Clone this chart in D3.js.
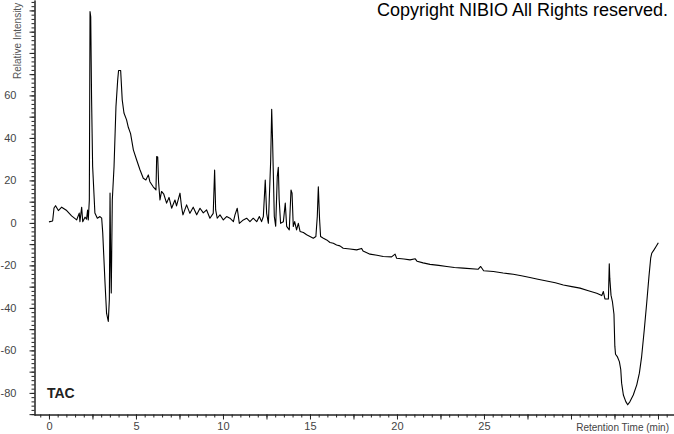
<!DOCTYPE html>
<html>
<head>
<meta charset="utf-8">
<script src="https://cdn.jsdelivr.net/npm/d3@7"></script>
<style>
  body { margin: 0; background: #fff; }
  text { font-family: "Liberation Sans", Arial, sans-serif; }
</style>
</head>
<body>
<div id="chart"></div>
<script>
// Data: retention time (min) and relative intensity
var retentionTime = [
  0.00, 0.21, 0.29, 0.38, 0.54, 0.73, 1.02, 1.30, 1.59, 1.74, 1.78, 1.88, 1.94, 2.07, 2.16, 2.22, 2.26, 2.32,
  2.36, 2.40, 2.45, 2.51, 2.64, 2.78, 2.93, 3.03, 3.09, 3.22, 3.31, 3.41, 3.47, 3.51, 3.55, 3.58, 3.64, 3.74,
  3.85, 3.95, 4.00, 4.12, 4.21, 4.31, 4.46, 4.56, 4.69, 4.85, 5.04, 5.23, 5.42, 5.57, 5.71, 5.80, 5.99, 6.15,
  6.19, 6.25, 6.30, 6.38, 6.47, 6.60, 6.76, 6.90, 7.05, 7.24, 7.33, 7.53, 7.62, 7.70, 7.91, 8.10, 8.29, 8.49,
  8.68, 8.87, 9.06, 9.25, 9.44, 9.52, 9.58, 9.67, 9.83, 10.02, 10.21, 10.40, 10.60, 10.69, 10.82, 10.94, 11.17,
  11.36, 11.55, 11.74, 11.94, 12.09, 12.22, 12.32, 12.43, 12.51, 12.61, 12.74, 12.80, 12.85, 12.95, 13.03,
  13.12, 13.18, 13.23, 13.31, 13.47, 13.58, 13.66, 13.81, 13.91, 13.97, 14.04, 14.12, 14.23, 14.33, 14.43,
  14.62, 14.81, 15.00, 15.19, 15.34, 15.42, 15.48, 15.55, 15.61, 15.77, 15.96, 16.15, 16.34, 16.53, 16.72,
  16.91, 17.30, 17.68, 17.97, 18.05, 18.45, 18.85, 19.21, 19.69, 19.89, 19.98, 20.40, 20.75, 21.05, 21.15,
  21.50, 21.90, 22.40, 22.86, 23.30, 23.81, 24.67, 24.81, 24.98, 25.54, 26.10, 26.68, 27.15, 27.64, 28.10,
  28.60, 29.10, 29.56, 30.05, 30.52, 31.00, 31.48, 31.77, 31.86, 31.95, 32.15, 32.20, 32.23, 32.30, 32.38,
  32.47, 32.52, 32.56, 32.66, 32.78, 32.86, 32.91, 33.01, 33.15, 33.26, 33.39, 33.58, 33.78, 33.93, 34.06,
  34.21, 34.35, 34.48, 34.58, 34.64, 34.77, 34.89, 35.02
];
var intensity = [
  0.5, 0.9, 7.0, 8.1, 5.8, 7.4, 5.8, 3.3, 1.4, 4.6, 0.6, 7.4, 0.6, 2.7, 1.8, 6.1, 1.4, 10.8,
  99.5, 97.0, 58.0, 26.5, 4.7, 2.2, 3.0, 2.2, -4.7, -28.0, -42.5, -46.4, -36.0, 14.0, -20.0, -33.0, 10.8, 26.5,
  54.7, 67.3, 71.7, 71.7, 57.9, 51.7, 48.5, 45.0, 42.0, 34.4, 29.6, 25.0, 21.0, 20.2, 22.6, 19.4, 17.0, 15.5,
  31.2, 31.0, 19.0, 10.8, 14.8, 13.5, 9.3, 12.0, 6.9, 10.8, 8.0, 14.0, 7.5, 3.8, 8.5, 4.5, 7.4, 3.8,
  6.9, 4.7, 6.1, 2.2, 4.5, 24.9, 6.1, 2.2, 3.8, 1.4, 3.0, 2.2, 0.6, 3.8, 6.9, -0.2, 1.4,
  2.2, 0.6, 2.2, 0.6, 3.0, 0.6, 3.0, 20.2, 4.5, -0.2, 28.9, 53.5, 39.0, 3.0, -1.6,
  21.8, 26.2, 11.0, -0.2, 0.5, 9.3, -1.6, -3.3, 15.5, 14.0, -1.7, 0.6, -3.3, -0.2, -4.0,
  -4.5, -5.6, -6.4, -7.2, -6.4, 3.0, 17.0, 2.0, -6.4, -7.2, -8.0, -9.2, -9.6, -10.4, -10.8,
  -11.9, -12.3, -12.7, -12.0, -13.2, -14.7, -15.2, -15.8, -16.0, -14.7, -16.6, -17.0, -17.4, -16.9, -18.0,
  -18.8, -19.5, -20.0, -20.5, -21.0, -21.3, -21.8, -20.5, -22.5, -22.9, -23.6, -24.2, -24.9, -25.7, -26.5,
  -27.3, -28.2, -29.2, -30.0, -30.7, -31.9, -33.1, -34.2, -32.3, -35.8, -35.8, -19.2, -26.0, -34.0, -37.0,
  -43.0, -58.0, -61.8, -62.9, -65.3, -69.0, -75.4, -81.0, -84.1, -85.6, -84.1, -81.0, -76.2, -70.7, -62.9,
  -50.4, -37.8, -25.3, -16.6, -14.3, -12.7, -11.1, -9.3
];

// Tick values
var xMajorTicks = d3.range(0, 36, 2.5);
var xMinorTicks = d3.range(-0.5, 36, 0.5);
var xTickLabels = [0, 5, 10, 15, 20, 25];
var yMajorTicks = d3.range(-90, 105, 10);
var yMinorTicks = d3.range(-90, 105, 2);
var yTickLabels = [-80, -60, -40, -20, 0, 20, 40, 60];

var chart_width  = 674;
var chart_height = 434;

var points = retentionTime.map(function(t, i){
  return { t: t, v: intensity[i] };
});

// Scales
var x = d3.scaleLinear()
          .domain([-0.86, 35.92])
          .range([34, 674]);

var y = d3.scaleLinear()
          .domain([-90.4, 104.9])
          .range([415, 0]);

var svg = d3.select('#chart')
            .append('svg')
            .attr('width', chart_width)
            .attr('height', chart_height);

svg.append('rect')
   .attr('width', chart_width)
   .attr('height', chart_height)
   .attr('fill', '#fff');

// Axes: minor ticks, then major ticks with labels
function styleAxis(g){
  g.selectAll('path.domain').attr('stroke', '#222');
  g.selectAll('.tick line').attr('stroke', '#222');
  g.selectAll('.tick text')
   .attr('fill', '#444')
   .style('font-size', '11px')
   .style('font-family', '"Liberation Sans", Arial, sans-serif');
}

svg.append('g')
   .attr('transform', 'translate(0,414.5)')
   .call(d3.axisBottom(x).tickValues(xMinorTicks).tickSize(3).tickSizeOuter(0).tickFormat(''))
   .call(styleAxis);

svg.append('g')
   .attr('transform', 'translate(0,414.5)')
   .call(d3.axisBottom(x).tickValues(xMajorTicks).tickSize(5).tickSizeOuter(0)
           .tickPadding(3)
           .tickFormat(function(d){ return xTickLabels.indexOf(d) >= 0 ? d : ''; }))
   .call(styleAxis);

svg.append('g')
   .attr('transform', 'translate(34.5,0)')
   .call(d3.axisLeft(y).tickValues(yMinorTicks).tickSize(3).tickSizeOuter(0).tickFormat(''))
   .call(styleAxis);

svg.append('g')
   .attr('transform', 'translate(34.5,0)')
   .call(d3.axisLeft(y).tickValues(yMajorTicks).tickSize(5).tickSizeOuter(0)
           .tickPadding(13)
           .tickFormat(function(d){ return yTickLabels.indexOf(d) >= 0 ? d : ''; }))
   .call(styleAxis);

// The trace
var line = d3.line()
             .x(function(d){ return x(d.t); })
             .y(function(d){ return y(d.v); });

svg.append('path')
   .datum(points)
   .attr('fill', 'none')
   .attr('stroke', '#000')
   .attr('stroke-width', 1.1)
   .attr('stroke-linejoin', 'round')
   .attr('d', line);

// Labels
svg.append('text')
   .attr('transform', 'translate(21,79) rotate(-90)')
   .attr('fill', '#555')
   .style('font-size', '10px')
   .text('Relative Intensity');

svg.append('text')
   .attr('x', 669)
   .attr('y', 431)
   .attr('text-anchor', 'end')
   .attr('fill', '#444')
   .style('font-size', '10px')
   .text('Retention Time (min)');

svg.append('text')
   .attr('x', 47)
   .attr('y', 398)
   .attr('fill', '#222')
   .style('font-size', '14px')
   .style('font-weight', 'bold')
   .text('TAC');

svg.append('text')
   .attr('x', 377)
   .attr('y', 16)
   .attr('fill', '#000')
   .style('font-size', '18px')
   .text('Copyright NIBIO All Rights reserved.');
</script>
</body>
</html>
